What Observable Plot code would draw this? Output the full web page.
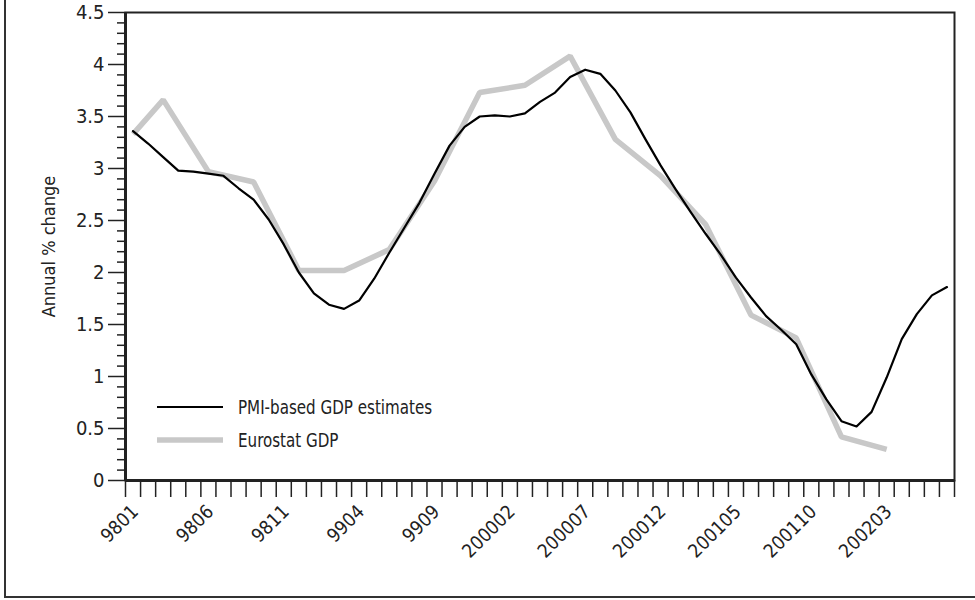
<!DOCTYPE html>
<html>
<head>
<meta charset="utf-8">
<script src="https://cdn.jsdelivr.net/npm/d3@7"></script>
<script src="https://cdn.jsdelivr.net/npm/@observablehq/plot@0.6"></script>
<style>
  html, body { margin: 0; padding: 0; background: #fff; }
  #wrap { position: relative; width: 975px; height: 600px; overflow: hidden;
          font-family: "Liberation Sans Narrow", "DejaVu Sans Condensed", "Roboto Condensed", sans-serif; }
  #border { position: absolute; left: 4px; top: -2px; width: 980px; height: 600px;
            border-left: 2px solid #333; border-bottom: 2px solid #333; box-sizing: border-box; pointer-events: none; }
  #legend { position: absolute; left: 157px; top: 390px; font-size: 20px; color: #222; }
  #legend .item { display: flex; align-items: center; height: 33px; }
  #legend svg { margin-right: 15px; }
  #legend span { display: inline-block; transform: scaleX(0.84); transform-origin: left center; white-space: nowrap; }
</style>
</head>
<body>
<div id="wrap">
  <div id="chart"></div>
  <div id="legend"></div>
  <div id="border"></div>
</div>
<script>
// Month categories (index 0 = 9801 ... 54 = 200207)
const monthCount = 55;
const tickIndex = [0, 5, 10, 15, 20, 25, 30, 35, 40, 45, 50];
const tickLabels = ["9801", "9806", "9811", "9904", "9909", "200002", "200007", "200012", "200105", "200110", "200203"];

// PMI-based GDP estimates (monthly)
const pmiValues = [
  3.36, 3.24, 3.11, 2.98, 2.97, 2.95, 2.93, 2.81, 2.70, 2.51,
  2.27, 2.00, 1.80, 1.69, 1.65, 1.73, 1.94, 2.19, 2.43, 2.67,
  2.95, 3.22, 3.40, 3.50, 3.51, 3.50, 3.53, 3.64, 3.73, 3.88,
  3.95, 3.91, 3.75, 3.54, 3.28, 3.03, 2.80, 2.58, 2.37, 2.17,
  1.95, 1.76, 1.58, 1.45, 1.31, 1.02, 0.78, 0.57, 0.52, 0.66,
  0.99, 1.36, 1.60, 1.78, 1.86
];

// Eurostat GDP (quarterly, placed at month index)
const gdpIndex = [0, 2, 5, 8, 11, 14, 17, 20, 23, 26, 29, 32, 35, 38, 41, 44, 47, 50];
const gdpValues = [3.33, 3.66, 2.97, 2.87, 2.02, 2.02, 2.22, 2.88, 3.73, 3.80, 4.08, 3.28, 2.93, 2.46, 1.59, 1.37, 0.42, 0.30];

const seriesNames = ["PMI-based GDP estimates", "Eurostat GDP"];
const seriesColors = ["#000000", "#c8c8c8"];
const seriesWidths = [2.2, 5.5];

const yMajor = [0, 0.5, 1, 1.5, 2, 2.5, 3, 3.5, 4, 4.5];
const yMinor = d3.range(0, 46).map(d => d / 10).filter(v => !yMajor.some(m => Math.abs(m - v) < 1e-9));

const pmi = pmiValues.map((v, i) => ({i, v}));
const gdp = gdpIndex.map((i, k) => ({i, v: gdpValues[k]}));
const boundaries = d3.range(0, monthCount + 1).map(d => d - 0.5);

const ink = "#222";
const chart = Plot.plot({
  width: 975,
  height: 600,
  marginLeft: 125,
  marginRight: 21,
  marginTop: 12,
  marginBottom: 120,
  style: {fontFamily: "'Liberation Sans Narrow', 'DejaVu Sans Condensed', 'Roboto Condensed', sans-serif", fontSize: "19px", color: ink, background: "white"},
  x: {type: "linear", domain: [-0.5, monthCount - 0.5], axis: null},
  y: {domain: [0, 4.5], axis: null},
  marks: [
    Plot.line(gdp, {x: "i", y: "v", stroke: seriesColors[1], strokeWidth: seriesWidths[1], strokeLinejoin: "miter", strokeLinecap: "butt"}),
    Plot.line(pmi, {x: "i", y: "v", stroke: seriesColors[0], strokeWidth: seriesWidths[0], strokeLinejoin: "round"}),
    Plot.frame({stroke: ink, strokeWidth: 2}),
    Plot.ruleX([-0.5], {stroke: ink, strokeWidth: 3}),
    Plot.ruleY([0], {stroke: ink, strokeWidth: 3}),
    Plot.axisY({ticks: yMajor, tickSize: 17, tickPadding: 4, tickFormat: d => String(d), stroke: ink, strokeWidth: 1.5, fontSize: 20, label: null}),
    Plot.axisY({ticks: yMinor, tickSize: 8, tickFormat: () => "", stroke: ink, strokeWidth: 1.5, label: null}),
    Plot.axisX({ticks: boundaries, tickSize: 17, tickFormat: () => "", stroke: ink, strokeWidth: 1.5, label: null}),
    Plot.text(tickIndex, {x: d => d, frameAnchor: "bottom", text: (d, k) => tickLabels[k], rotate: -45, textAnchor: "end", lineAnchor: "middle", dx: 2, dy: 28, fontSize: 19, fill: ink}),
    Plot.text(["Annual % change"], {frameAnchor: "left", textAnchor: "middle", dx: -76, rotate: -90, fontSize: 18, fill: ink})
  ]
});
document.getElementById("chart").appendChild(chart);

const legend = document.getElementById("legend");
seriesNames.forEach((name, k) => {
  const item = document.createElement("div");
  item.className = "item";
  item.innerHTML = `<svg width="66" height="10"><line x1="0" x2="66" y1="5" y2="5" stroke="${seriesColors[k]}" stroke-width="${seriesWidths[k]}"/></svg><span>${name}</span>`;
  legend.appendChild(item);
});
</script>
</body>
</html>
